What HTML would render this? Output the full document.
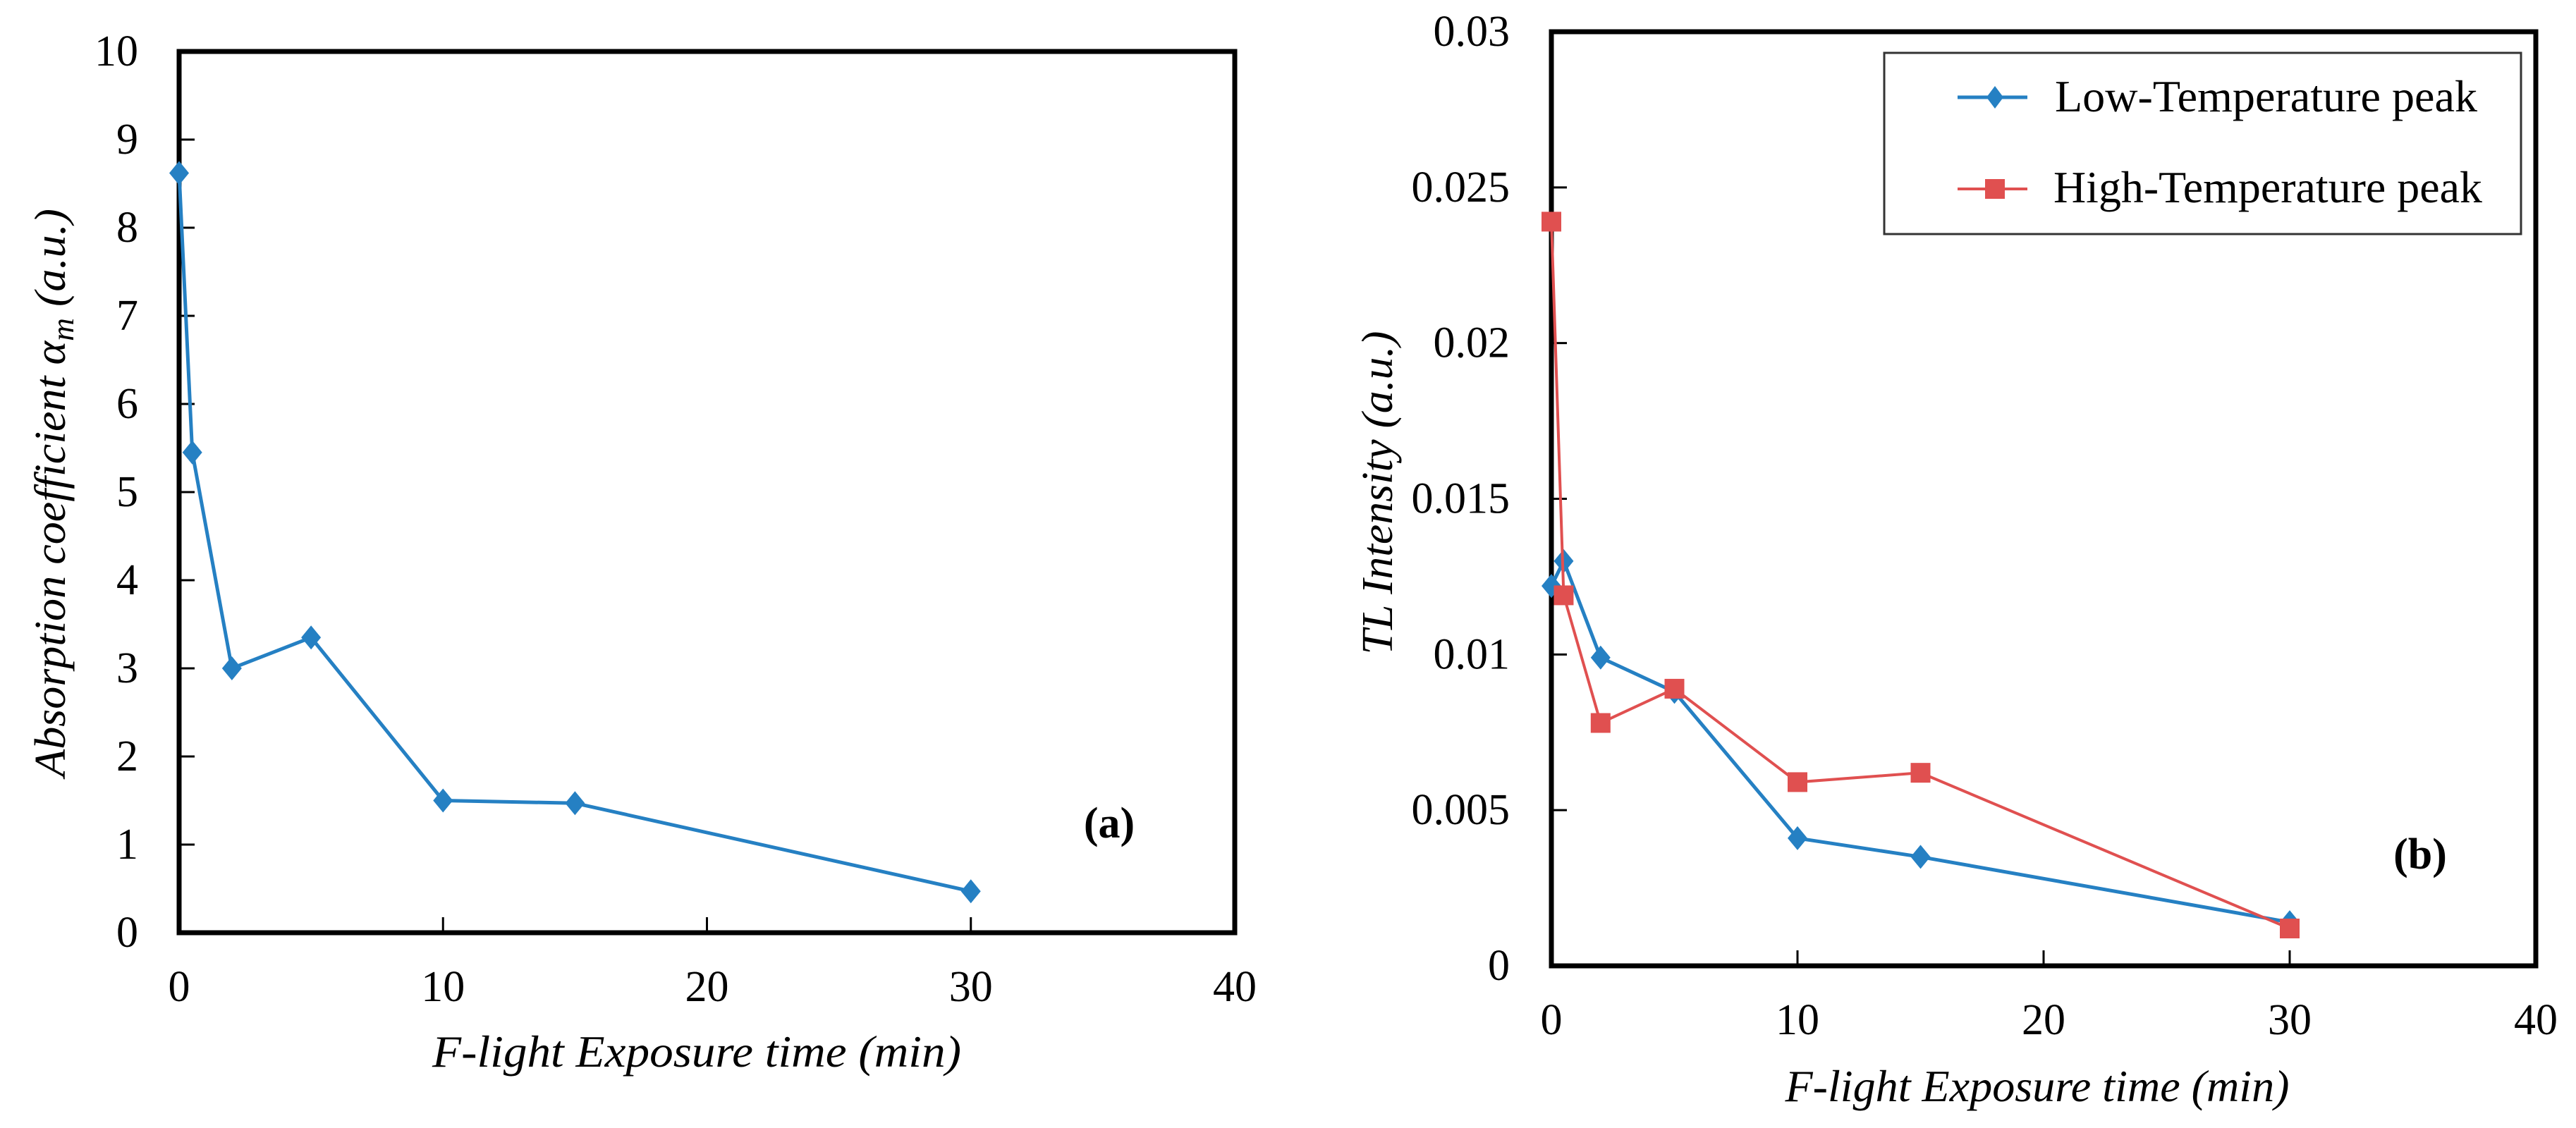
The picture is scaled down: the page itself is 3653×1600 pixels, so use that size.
<!DOCTYPE html>
<html><head><meta charset="utf-8"><style>
html,body{margin:0;padding:0;background:#fff;}
svg, svg text{font-family:"Liberation Serif", serif;}
svg{display:block;}
</style></head><body>
<svg id="c" width="3653" height="1600" viewBox="0 0 3653 1600" xmlns="http://www.w3.org/2000/svg"></svg>
<script>
const xTimes = [0, 0.5, 2, 5, 10, 15, 30];
const absorption = [8.62, 5.45, 3.0, 3.35, 1.5, 1.47, 0.47];
const lowTemp = [0.0122, 0.0130, 0.0099, 0.0088, 0.0041, 0.0035, 0.0014];
const highTemp = [0.0239, 0.0119, 0.0078, 0.0089, 0.0059, 0.0062, 0.0012];
const xTicks = [0, 10, 20, 30, 40];
const yTicksA = [0,1,2,3,4,5,6,7,8,9,10];
const yTicksB = [0, 0.005, 0.01, 0.015, 0.02, 0.025, 0.03];
const yTickLabelsB = ["0","0.005","0.01","0.015","0.02","0.025","0.03"];

const NS="http://www.w3.org/2000/svg";
const svg=document.getElementById('c');
function mk(tag,attrs,parent){const e=document.createElementNS(NS,tag);for(const k in attrs)e.setAttribute(k,attrs[k]);(parent||svg).appendChild(e);return e;}

function panel(p){
  const g=mk('g',{});
  
  
  const sx=v=>p.x0+(v-p.xmin)/(p.xmax-p.xmin)*(p.x1-p.x0);
  const sy=v=>p.y1-(v-p.ymin)/(p.ymax-p.ymin)*(p.y1-p.y0);
  p.yt.forEach((v,i)=>{
    const y=sy(v);
    if(i>0&&i<p.yt.length-1){const t=mk('line',{x1:p.x0,x2:p.x0+22,y1:y,y2:y,stroke:'#000','stroke-width':3},g);
    
    }
    const tx=mk('text',{x:p.ylx,y:y+20,'text-anchor':'end','font-size':62},g);
    tx.textContent=p.ytl[i];
    
    
  });
  xTicks.forEach((v,i)=>{
    const x=sx(v);
    if(i>0&&i<xTicks.length-1){const t=mk('line',{x1:x,x2:x,y1:p.y1,y2:p.y1-22,stroke:'#000','stroke-width':3},g);
    
    }
    const tx=mk('text',{x:x,y:p.xly,'text-anchor':'middle','font-size':62},g);
    tx.textContent=String(v);
    
    
  });
  const fr=mk('rect',{x:p.x0,y:p.y0,width:p.x1-p.x0,height:p.y1-p.y0,fill:'none',stroke:'#000','stroke-width':7},g);
  
  
  p.series.forEach(s=>{
    const pts=xTimes.map((t,i)=>sx(t)+','+sy(s.vals[i])).join(' ');
    const pl=mk('polyline',{points:pts,fill:'none',stroke:s.color,'stroke-width':s.sw},g);
    
    
    xTimes.forEach((t,i)=>{
      const cx=sx(t),cy=sy(s.vals[i]);let m;
      if(s.shape==='d'){m=mk('polygon',{points:`${cx},${cy-17} ${cx+14},${cy} ${cx},${cy+17} ${cx-14},${cy}`,fill:s.color},g);}
      else{m=mk('rect',{x:cx-14,y:cy-14,width:28,height:28,fill:s.color},g);}
      
      
    });
  });
  return {sx,sy,g};
}

panel({name:'chart-a',x0:254,x1:1751,y0:73,y1:1323,xmin:0,xmax:40,ymin:0,ymax:10,yt:yTicksA,ytl:yTicksA.map(String),ylx:196,xly:1420,
  series:[{name:'absorption',vals:absorption,color:'#2580c3',sw:5,shape:'d'}]});
panel({name:'chart-b',x0:2200,x1:3596,y0:45,y1:1370,xmin:0,xmax:40,ymin:0,ymax:0.03,yt:yTicksB,ytl:yTickLabelsB,ylx:2141,xly:1467,
  series:[{name:'low-temperature',vals:lowTemp,color:'#2580c3',sw:5,shape:'d'},{name:'high-temperature',vals:highTemp,color:'#e05050',sw:4,shape:'s'}]});
</script>
<svg style="position:absolute;left:0;top:0" width="3653" height="1600" viewBox="0 0 3653 1600" xmlns="http://www.w3.org/2000/svg">
  <g>
    <text x="988" y="1513" text-anchor="middle" font-size="64" font-style="italic" textLength="750" lengthAdjust="spacingAndGlyphs">F-light Exposure time (min)</text>
    <text x="2889" y="1562" text-anchor="middle" font-size="64" font-style="italic" textLength="715" lengthAdjust="spacingAndGlyphs">F-light Exposure time (min)</text>
    <text transform="translate(92,699) rotate(-90)" text-anchor="middle" font-size="62" font-style="italic" textLength="806" lengthAdjust="spacingAndGlyphs">Absorption coefficient α<tspan font-size="44" dy="12">m</tspan><tspan dy="-12"> (a.u.)</tspan></text>
    <text transform="translate(1974,699) rotate(-90)" text-anchor="middle" font-size="62" font-style="italic" textLength="459" lengthAdjust="spacingAndGlyphs">TL Intensity (a.u.)</text>
    <text x="1573" y="1188" text-anchor="middle" font-size="62" font-weight="bold">(a)</text>
    <text x="3432" y="1232" text-anchor="middle" font-size="62" font-weight="bold">(b)</text>
    <g>
      <rect x="2672" y="75" width="903" height="257" fill="#fff" stroke="#333" stroke-width="3"/>
      <g>
        <line x1="2776" x2="2875" y1="138" y2="138" stroke="#2580c3" stroke-width="5"/>
        <polygon points="2829,122 2841,138 2829,154 2817,138" fill="#2580c3"/>
        <text x="2914" y="158" font-size="64" textLength="599" lengthAdjust="spacingAndGlyphs">Low-Temperature peak</text>
      </g>
      <g>
        <line x1="2776" x2="2875" y1="268" y2="268" stroke="#e05050" stroke-width="4"/>
        <rect x="2815" y="254" width="28" height="28" fill="#e05050"/>
        <text x="2912" y="287" font-size="64" textLength="608" lengthAdjust="spacingAndGlyphs">High-Temperature peak</text>
      </g>
    </g>
  </g>
</svg>
</body></html>
